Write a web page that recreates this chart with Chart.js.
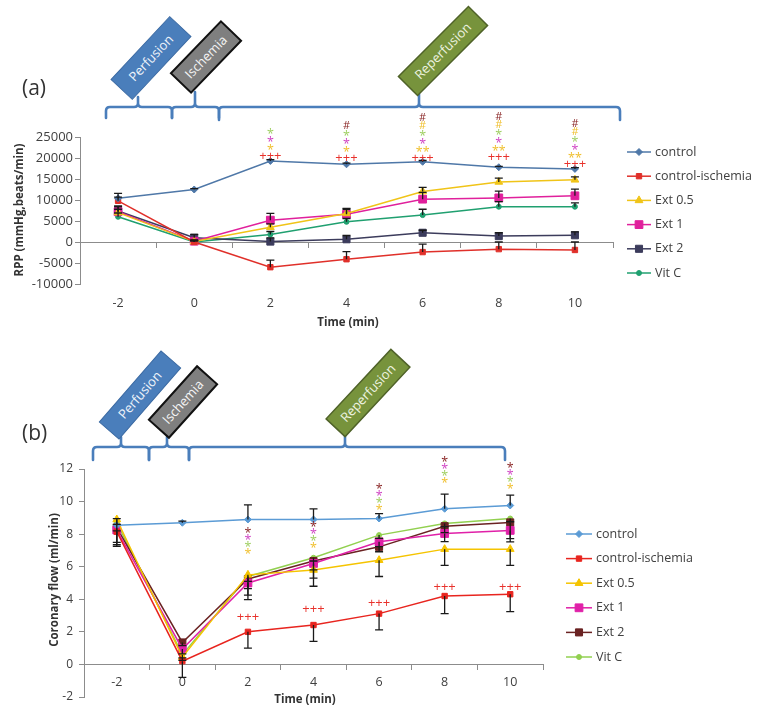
<!DOCTYPE html>
<html>
<head>
<meta charset="utf-8">
<script src="https://cdn.jsdelivr.net/npm/chart.js@4.4.0/dist/chart.umd.min.js"></script>
<style>
  body { margin: 0; background: #fff; width: 758px; height: 717px; position: relative; overflow: hidden; font-family: "Open Sans", sans-serif; }
  #wrapA { position: absolute; left: 0; top: 0; width: 758px; height: 345px; }
  #wrapB { position: absolute; left: 0; top: 345px; width: 758px; height: 372px; }
  #over { position: absolute; left: 0; top: 0; pointer-events: none; }
</style>
</head>
<body>
<div id="wrapA"><canvas id="chartA" width="758" height="345"></canvas></div>
<div id="wrapB"><canvas id="chartB" width="758" height="372"></canvas></div>
<svg id="over" width="758" height="717" xmlns="http://www.w3.org/2000/svg"></svg>

<script>
// ---------------- data ----------------
const timeLabels = ['-2', '0', '2', '4', '6', '8', '10'];
const seriesNames = ['control', 'control-ischemia', 'Ext 0.5', 'Ext 1', 'Ext 2', 'Vit C'];

// (a) RPP (mmHg.beats/min)
const rppControl  = [10400, 12500, 19300, 18500, 19100, 17800, 17400];
const rppIschemia = [9800, 0, -6000, -4100, -2400, -1700, -1900];
const rppExt05    = [7000, 100, 3500, 6800, 12000, 14300, 14800];
const rppExt1     = [7200, 200, 5200, 6600, 10200, 10500, 11000];
const rppExt2     = [7400, 1000, 100, 650, 2200, 1400, 1600];
const rppVitC     = [6000, 0, 1800, 4800, 6400, 8400, 8400];
// error bars (a), all drawn upwards
const rppControlErr  = [1200, 200, 300, 300, 300, 200, 300];
const rppIschemiaErr = [900, 300, 1700, 1800, 1900, 1700, 1900];
const rppExt05Err    = [800, 300, 800, 1000, 1000, 900, 700];
const rppExt1Err     = [1200, 300, 1600, 1400, 1600, 1600, 1600];
const rppExt2Err     = [1200, 800, 900, 900, 600, 800, 800];
const rppVitCErr     = [900, 300, 700, 800, 1400, 1200, 900];

// (b) coronary flow (ml/min)
const cfControl  = [8.55, 8.7, 8.9, 8.9, 8.96, 9.56, 9.76];
const cfIschemia = [8.15, 0.2, 2.0, 2.42, 3.12, 4.2, 4.31];
const cfExt05    = [8.9, 0.45, 5.5, 5.8, 6.4, 7.08, 7.08];
const cfExt1     = [8.25, 0.95, 5.0, 6.2, 7.53, 8.04, 8.23];
const cfExt2     = [8.4, 1.35, 5.25, 6.35, 7.22, 8.49, 8.72];
const cfVitC     = [8.7, 0.6, 5.4, 6.55, 7.94, 8.66, 8.96];
// error bars (b): control upwards, the others downwards
const cfControlErr  = [0.4, 0.1, 0.9, 0.65, 0.3, 0.9, 0.64];
const cfIschemiaErr = [0.9, 1.0, 1.0, 1.0, 1.0, 1.08, 1.07];
const cfExt05Err    = [0.3, 0.2, 0.85, 0.5, 1.0, 1.0, 1.0];
const cfExt1Err     = [0.9, 0.3, 0.75, 0.4, 0.3, 0.5, 0.5];
const cfExt2Err     = [0.9, 0.2, 1.27, 1.55, 0.3, 0.4, 1.2];
const cfVitCErr     = [0.5, 0.2, 0.3, 0.2, 0.2, 0.2, 0.2];

// significance marks: [time, value of lowest mark, marks bottom->top (colour key + text)]
const rppMarks = [
  ['2', 20550, 'r+++ y* m* g*'],
  ['4', 20070, 'r+++ y* m* g* d#'],
  ['6', 20070, 'r+++ y** m* g* y# d#'],
  ['8', 20310, 'r+++ y** m* g* y# d#'],
  ['10', 18640, 'r+++ y** m* g* y# d#']
];
const cfMarks = [
  ['2', 6.95, 'y* g* m* d*'], ['4', 7.32, 'y* g* m* d*'], ['6', 9.66, 'y* g* m* d*'],
  ['8', 11.3, 'y* g* m* d*'], ['10', 10.95, 'y* g* m* d*'],
  ['2', 2.95, 'r+++'], ['4', 3.45, 'r+++'], ['6', 3.8, 'r+++'], ['8', 4.8, 'r+++'], ['10', 4.8, 'r+++']
];
const markColors = { r: '#e8322c', y: '#f0c030', m: '#d045c4', g: '#9fcf62', d: '#8c2a2a' };

// ---------------- helpers ----------------
function drawMarker(ctx, style, r, x, y, color) {
  ctx.save();
  ctx.fillStyle = color; ctx.strokeStyle = color; ctx.lineWidth = 1;
  ctx.beginPath();
  if (style === 'circle') ctx.arc(x, y, r, 0, Math.PI * 2);
  else if (style === 'rect') { const s = r * Math.SQRT1_2; ctx.rect(x - s, y - s, 2 * s, 2 * s); }
  else if (style === 'rectRot') { ctx.moveTo(x, y - r); ctx.lineTo(x + r, y); ctx.lineTo(x, y + r); ctx.lineTo(x - r, y); ctx.closePath(); }
  else if (style === 'triangle') { ctx.moveTo(x, y - r); ctx.lineTo(x + r * 0.87, y + r * 0.5); ctx.lineTo(x - r * 0.87, y + r * 0.5); ctx.closePath(); }
  ctx.fill(); ctx.stroke();
  ctx.restore();
}

const decor = {
  id: 'decor',
  afterDatasetsDraw(chart) {
    const o = chart.options.plugins.decor;
    const ctx = chart.ctx, ys = chart.scales.y;
    ctx.save();
    ctx.strokeStyle = '#1a1a1a'; ctx.lineWidth = 1.3;
    chart.data.datasets.forEach((ds, i) => {
      const meta = chart.getDatasetMeta(i);
      ds.err.forEach((e, j) => {
        const x = meta.data[j].x;
        const y0 = ys.getPixelForValue(ds.data[j]);
        const y1 = ys.getPixelForValue(ds.data[j] + o.errDir[i] * e);
        ctx.beginPath();
        ctx.moveTo(x, y0); ctx.lineTo(x, y1);
        ctx.moveTo(x - 4, y1); ctx.lineTo(x + 4, y1);
        ctx.stroke();
      });
    });
    ctx.restore();
  },
  afterDraw(chart) {
    const o = chart.options.plugins.decor;
    const ctx = chart.ctx, xs = chart.scales.x, ys = chart.scales.y;
    ctx.save();
    // significance marks
    o.marks.forEach(([t, v, str]) => {
      const x = xs.getPixelForValue(timeLabels.indexOf(t));
      let y = ys.getPixelForValue(v);
      str.split(' ').forEach((m, k) => {
        const txt = m.slice(1);
        const fs = txt[0] === '+' ? 13 : (txt[0] === '#' ? 11 : 12.5);
        ctx.font = fs + 'px "Open Sans"';
        ctx.fillStyle = markColors[m[0]];
        ctx.textAlign = 'center'; ctx.textBaseline = 'alphabetic';
        const k2 = txt[0] === '*' ? 0.56 : 0.36;
        ctx.fillText(txt, x, y + k2 * fs);
        y -= (k === 0 && txt[0] === '+') ? o.firstGap : o.gap;
      });
    });
    // legend
    chart.data.datasets.forEach((ds, i) => {
      const y = o.legY + i * o.legStep;
      ctx.strokeStyle = ds.borderColor; ctx.lineWidth = 1.5;
      ctx.beginPath(); ctx.moveTo(o.legX, y); ctx.lineTo(o.legX + o.legLen, y); ctx.stroke();
      drawMarker(ctx, ds.pointStyle, ds.pointRadius, o.legX + o.legLen / 2, y, ds.borderColor);
      ctx.fillStyle = '#404040'; ctx.font = '12.5px "Open Sans"';
      ctx.textAlign = 'left'; ctx.textBaseline = 'middle';
      ctx.fillText(ds.label, o.legX + o.legLen + 4, y);
    });
    // axis titles
    ctx.fillStyle = '#333'; ctx.font = 'bold 11.5px "Open Sans"';
    ctx.textAlign = 'center'; ctx.textBaseline = 'middle';
    ctx.fillText('Time (min)', o.xTitle[0], o.xTitle[1]);
    ctx.translate(o.yTitle[0], o.yTitle[1]); ctx.rotate(-Math.PI / 2);
    ctx.fillText(o.yTitle[2], 0, 0);
    ctx.restore();
  }
};

function makeDatasets(values, errs, colors) {
  const styles = [['rectRot', 3.5], ['rect', 3.8], ['triangle', 4.5], ['rect', 5.5], ['rect', 5], ['circle', 2.5]];
  return seriesNames.map((name, i) => ({
    label: name,
    data: values[i],
    err: errs[i],
    borderColor: colors[i],
    backgroundColor: colors[i],
    borderWidth: 1.5,
    pointStyle: styles[i][0],
    pointRadius: styles[i][1],
    pointHoverRadius: styles[i][1],
    pointBorderWidth: 1,
    tension: 0
  }));
}

function makeChart(id, datasets, p) {
  return new Chart(document.getElementById(id), {
    type: 'line',
    data: { labels: timeLabels, datasets: datasets },
    options: {
      responsive: false,
      animation: false,
      events: [],
      layout: { padding: p.padding },
      plugins: { legend: { display: false }, tooltip: { enabled: false }, decor: p.decor },
      scales: {
        x: {
          type: 'category', offset: true, position: { y: 0 },
          border: { color: '#8c8c8c', width: 1 },
          grid: { drawOnChartArea: false, tickLength: 5, color: '#8c8c8c', offset: true },
          ticks: { color: '#404040', padding: p.xPad, font: { family: 'Open Sans', size: p.xFont } }
        },
        y: {
          min: p.min, max: p.max,
          afterFit: s => { s.width = p.yWidth; },
          border: { color: '#8c8c8c', width: 1 },
          grid: { drawOnChartArea: false, tickLength: 5, color: '#8c8c8c' },
          ticks: {
            stepSize: p.step, color: '#404040', padding: p.yPad,
            font: { family: 'Open Sans', size: p.yFont },
            callback: v => String(v)
          }
        }
      }
    },
    plugins: [decor]
  });
}

// (a)
makeChart('chartA',
  makeDatasets(
    [rppControl, rppIschemia, rppExt05, rppExt1, rppExt2, rppVitC],
    [rppControlErr, rppIschemiaErr, rppExt05Err, rppExt1Err, rppExt2Err, rppVitCErr],
    ['#4f78a8', '#e0302a', '#f0c418', '#e0209c', '#3c3c5c', '#20a070']),
  {
    padding: { left: 20, right: 145, top: 137, bottom: 61 },
    min: -10000, max: 25000, step: 5000, yWidth: 60, yPad: 2, yFont: 13, xPad: 49, xFont: 12.5,
    decor: {
      errDir: [1, 1, 1, 1, 1, 1], marks: rppMarks, gap: 7.8, firstGap: 9,
      legX: 627, legY: 152, legStep: 24.2, legLen: 24,
      xTitle: [348, 323], yTitle: [20, 210, 'RPP (mmHg,beats/min)']
    }
  });

// (b)
makeChart('chartB',
  makeDatasets(
    [cfControl, cfIschemia, cfExt05, cfExt1, cfExt2, cfVitC],
    [cfControlErr, cfIschemiaErr, cfExt05Err, cfExt1Err, cfExt2Err, cfVitCErr],
    ['#5b9bd5', '#e8251f', '#f5c400', '#e020a8', '#6a2222', '#92d050']),
  {
    padding: { left: 20, right: 215, top: 124, bottom: 20 },
    min: -2, max: 12, step: 2, yWidth: 64, yPad: 6, yFont: 12, xPad: 6, xFont: 12.5,
    decor: {
      errDir: [1, -1, -1, -1, -1, -1], marks: cfMarks, gap: 7, firstGap: 7,
      legX: 566, legY: 189, legStep: 24.6, legLen: 26,
      xTitle: [305, 355], yTitle: [55, 235, 'Coronary flow (ml/min)']
    }
  });

// ---------------- phase boxes, braces, panel letters ----------------
const svg = document.getElementById('over');
function brace(x0, x1, xm, y, yEnd, yTop) {
  const r = 4;
  return `M${x0},${yEnd} L${x0},${y + r} Q${x0},${y} ${x0 + r},${y} L${xm - r},${y} Q${xm},${y} ${xm},${y - r} L${xm},${yTop} ` +
         `M${xm},${y - r} Q${xm},${y} ${xm + r},${y} L${x1 - r},${y} Q${x1},${y} ${x1},${y + r} L${x1},${yEnd}`;
}
function box(cx, cy, w, h, rot, fill, stroke, sw, label, tc) {
  return `<g transform="translate(${cx},${cy}) rotate(${rot})">` +
    `<rect x="${-w / 2}" y="${-h / 2}" width="${w}" height="${h}" fill="${fill}" stroke="${stroke}" stroke-width="${sw}"/>` +
    `<text x="0" y="1" text-anchor="middle" dominant-baseline="middle" font-family="Open Sans" font-size="13" fill="${tc}">${label}</text></g>`;
}
let s = '';
const braceStyle = 'fill="none" stroke="#4a7ebb" stroke-width="2.6" stroke-linecap="round"';
s += `<path ${braceStyle} d="${brace(106, 172, 138, 107, 118, 97)}"/>`;
s += `<path ${braceStyle} d="${brace(172, 219, 195, 107, 118, 92)}"/>`;
s += `<path ${braceStyle} d="${brace(219, 620, 419, 107, 120, 94)}"/>`;
s += `<path ${braceStyle} d="${brace(93, 149, 121, 447, 460, 437)}"/>`;
s += `<path ${braceStyle} d="${brace(149, 189, 167, 447, 460, 437)}"/>`;
s += `<path ${braceStyle} d="${brace(189, 505, 345, 447, 460, 436)}"/>`;
s += box(151, 58, 86, 29, -47, '#4a7ebb', '#3b6aa3', 1, 'Perfusion', '#eef3fa');
s += box(206, 57, 72, 28, -46, '#7f7f7f', '#111', 2, 'Ischemia', '#f4f4f4');
s += box(443, 51, 99, 27, -45, '#77933c', '#4f6228', 1.5, 'Reperfusion', '#eef4e0');
s += box(140, 395, 94, 26, -49, '#4a7ebb', '#3b6aa3', 1, 'Perfusion', '#eef3fa');
s += box(183, 402, 72, 27, -48, '#7f7f7f', '#111', 2, 'Ischemia', '#f4f4f4');
s += box(368, 393, 95, 26, -47, '#77933c', '#4f6228', 1.5, 'Reperfusion', '#eef4e0');
s += `<text x="22" y="95" font-family="Open Sans" font-size="21" fill="#333">(a)</text>`;
s += `<text x="22" y="440" font-family="Open Sans" font-size="21" fill="#333">(b)</text>`;
svg.innerHTML = s;
</script>
</body>
</html>
